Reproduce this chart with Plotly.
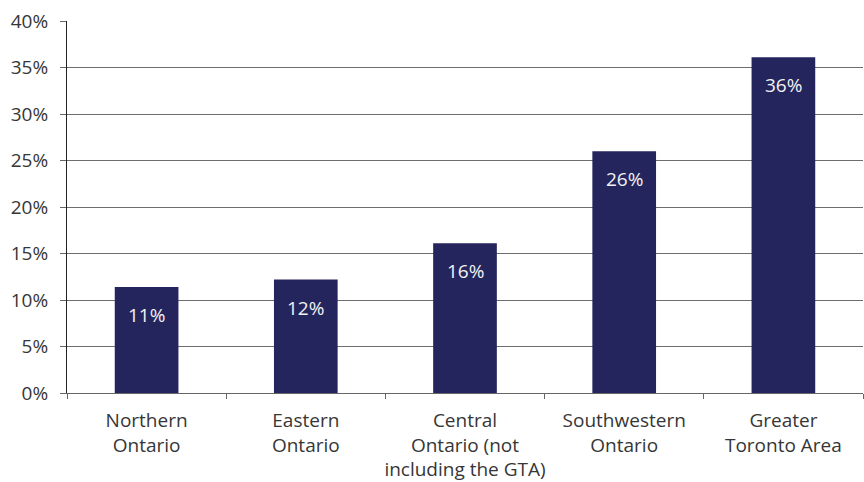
import plotly.graph_objects as go

# Share by region of Ontario
regions = ["Northern Ontario", "Eastern Ontario", "Central Ontario (not including the GTA)",
           "Southwestern Ontario", "Greater Toronto Area"]
region_labels = ["Northern<br>Ontario", "Eastern<br>Ontario", "Central<br>Ontario (not<br>including the GTA)",
                 "Southwestern<br>Ontario", "Greater<br>Toronto Area"]
shares = [11.4, 12.2, 16.1, 26.0, 36.1]

y_ticks = [0, 5, 10, 15, 20, 25, 30, 35, 40]
y_tick_text = [f"{t}%" for t in y_ticks]

BAR = "#25255e"
TEXT = "#363636"
FONT = "Open Sans"
FSIZE = 19

fig = go.Figure()
fig.add_trace(go.Bar(
    x=regions, y=shares,
    marker=dict(color=BAR, line=dict(width=0)),
    hoverinfo="skip",
))

# Value labels sitting just inside the top of each bar
for r, v in zip(regions, shares):
    fig.add_annotation(
        x=r, y=v, text=f"{v:.0f}%", showarrow=False,
        yanchor="middle", yshift=-28,
        font=dict(family=FONT, size=FSIZE, color="#f2f2f2"),
    )

fig.update_layout(
    width=864, height=482,
    margin=dict(l=67, r=1, t=21, b=89),
    paper_bgcolor="white", plot_bgcolor="white",
    bargap=0.6,
    showlegend=False,
    font=dict(family=FONT, size=FSIZE, color=TEXT),
)

fig.update_xaxes(
    tickmode="array", tickvals=regions, ticktext=region_labels,
    tickangle=0, automargin=False,
    tickson="boundaries", ticks="outside", ticklen=5, tickcolor="#666666", tickwidth=1,
    showline=True, linecolor="#666666", linewidth=1,
    showgrid=False, zeroline=False,
    tickfont=dict(family=FONT, size=FSIZE, color=TEXT),
    ticklabelstandoff=10,
)
fig.update_yaxes(
    range=[0, 40], tickmode="array", tickvals=y_ticks, ticktext=y_tick_text,
    automargin=False,
    ticks="outside", ticklen=6, tickcolor="#666666", tickwidth=1,
    showline=True, linecolor="#222222", linewidth=1,
    showgrid=True, gridcolor="#6e6e6e", gridwidth=1,
    zeroline=False,
    tickfont=dict(family=FONT, size=FSIZE, color=TEXT),
    ticklabelstandoff=8,
)

fig.write_html("out.html")
